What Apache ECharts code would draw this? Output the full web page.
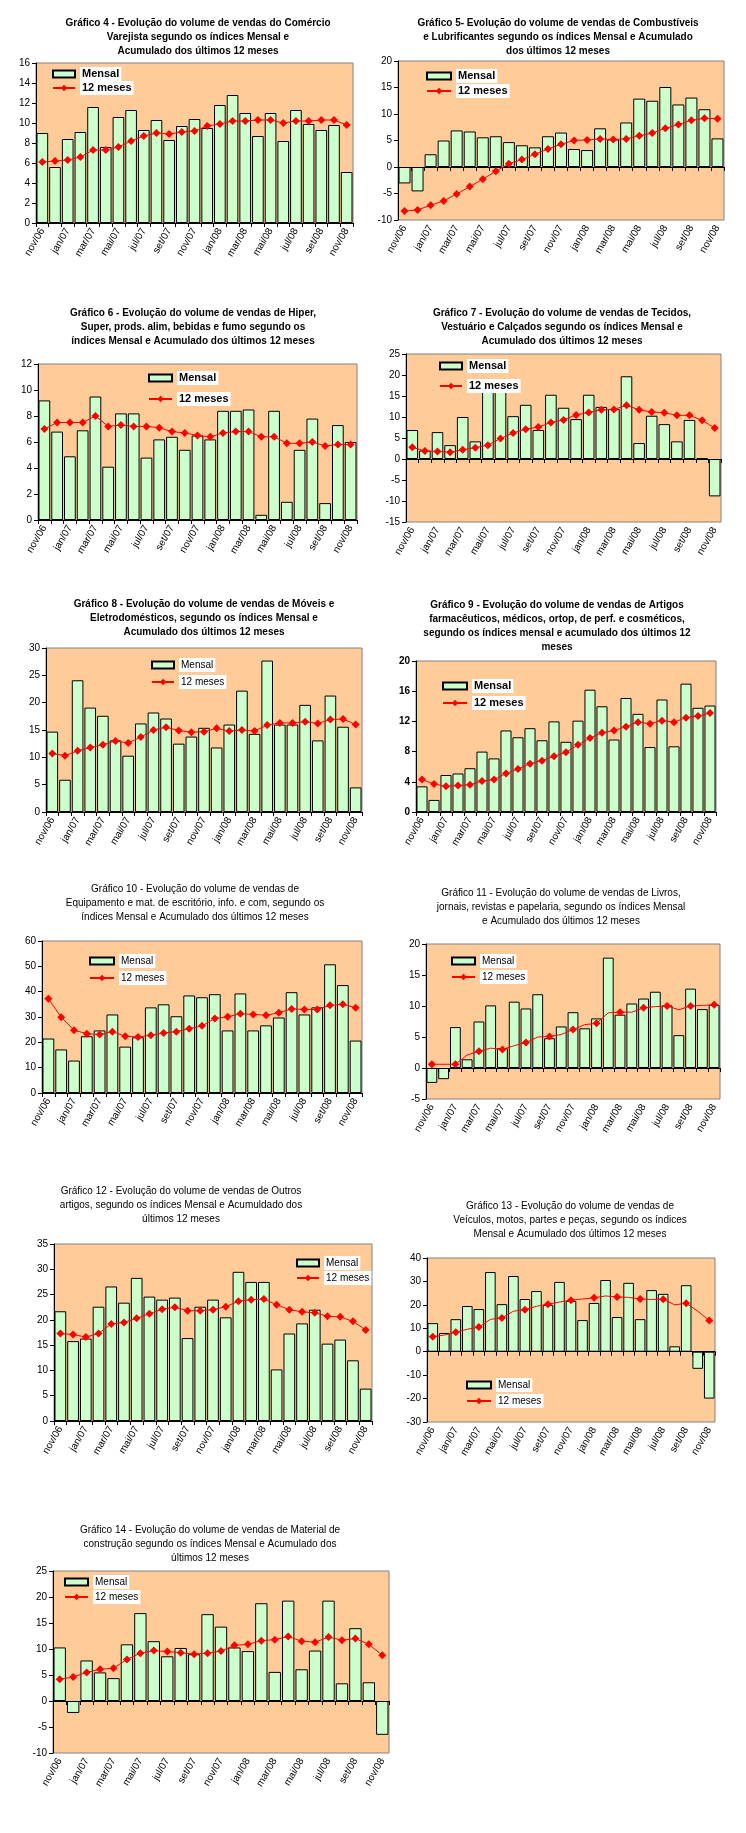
<!DOCTYPE html>
<html>
<head>
<meta charset="utf-8">
<script src="https://cdn.jsdelivr.net/npm/echarts@6/dist/echarts.min.js"></script>
<style>
html,body{margin:0;padding:0;background:#fff;}
#chart{width:746px;height:1833px;}
</style>
</head>
<body>
<div id="chart"></div>
<script>
const months = ['nov/06','dez/06','jan/07','fev/07','mar/07','abr/07','mai/07','jun/07','jul/07','ago/07','set/07','out/07','nov/07','dez/07','jan/08','fev/08','mar/08','abr/08','mai/08','jun/08','jul/08','ago/08','set/08','out/08','nov/08'];

const c4_mensal = [9.0,5.6,8.4,9.1,11.6,7.6,10.6,11.3,9.3,10.3,8.3,9.7,10.4,9.5,11.8,12.8,11.0,8.7,11.0,8.2,11.3,9.9,9.3,9.8,5.1];
const c4_12m    = [6.1,6.2,6.3,6.6,7.3,7.3,7.6,8.2,8.7,9.0,8.9,9.1,9.2,9.7,9.9,10.2,10.2,10.3,10.3,10.0,10.2,10.2,10.3,10.3,9.8];

const c5_mensal = [-3.1,-4.6,2.4,5.0,6.9,6.7,5.6,5.8,4.7,4.1,3.7,5.8,6.5,3.4,3.2,7.3,5.2,8.4,12.9,12.5,15.1,11.8,13.1,10.9,5.4];
const c5_12m    = [-8.3,-8.1,-7.2,-6.4,-5.1,-3.7,-2.3,-0.8,0.6,1.4,2.4,3.4,4.3,5.0,5.1,5.3,5.2,5.3,5.9,6.4,7.3,8.0,8.8,9.2,9.1];

const c6_mensal = [9.2,6.8,4.9,6.9,9.5,4.1,8.2,8.2,4.8,6.2,6.4,5.4,6.5,6.2,8.4,8.4,8.5,0.4,8.4,1.4,5.4,7.8,1.3,7.3,6.0];
const c6_12m    = [7.0,7.5,7.5,7.5,8.0,7.2,7.3,7.2,7.2,7.1,6.8,6.7,6.5,6.4,6.7,6.8,6.8,6.4,6.4,5.9,5.9,6.0,5.7,5.8,5.8];

const c7_mensal = [6.9,2.0,6.4,3.3,10.0,4.2,17.5,16.8,10.2,12.9,6.9,15.3,12.2,9.5,15.3,12.4,11.9,19.7,3.8,10.3,8.3,4.2,9.3,0.2,-8.9];
const c7_12m    = [2.8,1.9,1.8,1.6,2.2,2.7,3.3,4.9,6.2,7.1,7.6,8.7,9.3,10.5,11.1,11.7,11.8,12.8,11.7,11.2,11.0,10.4,10.4,9.2,7.4];

const c8_mensal = [14.7,5.9,24.1,19.1,17.6,13.1,10.3,16.2,18.2,17.1,12.5,13.8,15.4,11.8,16.0,22.2,14.3,27.7,16.0,16.0,19.6,13.1,21.3,15.6,4.5];
const c8_12m    = [10.7,10.3,11.2,11.8,12.3,13.0,12.6,13.7,15.0,15.5,14.9,14.6,14.7,15.3,14.8,15.0,14.8,15.9,16.3,16.3,16.5,16.2,16.9,17.0,16.0];

const c9_mensal = [3.4,1.6,4.9,5.1,5.8,8.0,7.1,10.8,9.9,11.1,9.5,12.0,9.3,12.1,16.2,14.0,9.6,15.1,13.0,8.6,14.9,8.7,17.0,13.8,14.1];
const c9_12m    = [4.3,3.7,3.4,3.5,3.6,4.1,4.3,5.1,5.7,6.4,6.8,7.4,7.9,8.9,9.8,10.5,10.8,11.3,11.9,11.7,12.1,11.9,12.5,12.7,13.1];

const c10_mensal = [21.5,17.2,12.8,22.4,24.7,31.0,18.3,22.0,33.8,35.0,30.3,38.5,37.8,39.0,24.7,39.3,24.7,26.7,29.8,39.8,31.0,33.8,50.8,42.6,20.7];
const c10_12m    = [37.2,29.9,24.8,23.4,23.1,24.2,22.4,22.1,22.8,23.7,24.2,25.4,26.5,29.4,30.1,31.3,31.0,30.7,31.7,33.2,33.0,33.0,34.6,35.0,33.7];

const c11_mensal = [-2.4,-1.8,6.6,1.4,7.5,10.1,3.2,10.7,9.6,11.9,4.8,6.7,9.0,6.4,8.0,17.8,8.6,10.4,11.2,12.3,10.1,5.3,12.8,9.5,10.2];
const c11_12m    = [0.6,0.6,0.6,2.1,2.7,3.2,3.0,3.6,4.1,5.0,5.1,5.4,6.2,7.0,7.2,8.9,9.0,9.0,9.7,9.9,10.0,9.4,10.0,10.1,10.2];

const c12_mensal = [21.7,15.8,16.3,22.6,26.6,23.4,28.3,24.6,24.0,24.4,16.4,22.6,24.0,20.5,29.5,27.5,27.5,10.2,17.3,19.3,22.0,15.3,16.1,12.0,6.4];
const c12_12m    = [17.3,17.1,16.6,17.3,19.2,19.5,20.3,21.2,22.1,22.5,21.8,21.8,22.0,22.6,23.7,24.0,24.1,23.0,22.0,21.6,21.4,20.7,20.6,19.7,18.0];

const c13_mensal = [12.2,8.0,13.9,19.5,18.2,34.0,20.3,32.3,22.5,25.9,20.0,29.8,21.7,13.5,20.8,30.6,14.8,29.4,13.9,26.3,24.7,2.3,28.4,-7.3,-20.0];
const c13_12m    = [6.4,7.1,8.3,9.6,10.5,13.8,14.4,17.3,17.9,19.4,20.3,21.2,22.0,22.5,23.0,23.8,23.4,23.2,22.5,22.3,22.4,20.0,20.7,17.3,13.3];

const c14_mensal = [10.3,-2.3,7.8,5.5,4.4,10.9,16.9,11.5,8.6,10.2,9.0,16.7,14.3,10.3,9.6,18.8,5.6,19.3,6.1,9.7,19.3,3.4,14.0,3.6,-6.5];
const c14_12m    = [4.2,4.6,5.5,6.1,6.3,8.0,9.2,9.7,9.5,9.3,9.0,9.2,9.6,10.7,10.9,11.6,11.8,12.4,11.5,11.3,12.3,11.7,12.0,10.9,8.8];

const titles = [
 'Gráfico 4 - Evolução do volume de vendas do Comércio\nVarejista segundo os índices Mensal e\nAcumulado dos últimos 12 meses',
 'Gráfico 5- Evolução do volume de vendas de Combustíveis\ne Lubrificantes segundo os índices Mensal e Acumulado\ndos últimos 12 meses',
 'Gráfico 6 - Evolução do volume de vendas de Hiper,\nSuper, prods. alim, bebidas e fumo segundo os\níndices Mensal e Acumulado dos últimos 12 meses',
 'Gráfico 7 - Evolução do volume de vendas de Tecidos,\nVestuário e Calçados segundo os índices Mensal e\nAcumulado dos últimos 12 meses',
 'Gráfico 8 - Evolução do volume de vendas de Móveis e\nEletrodomésticos, segundo os índices Mensal e\nAcumulado dos últimos 12 meses',
 'Gráfico 9 - Evolução do volume de vendas de Artigos\nfarmacêuticos, médicos, ortop, de perf. e cosméticos,\nsegundo os índices mensal e acumulado dos últimos 12\nmeses',
 'Gráfico 10 - Evolução do volume de vendas de\nEquipamento e mat. de escritório, info. e com, segundo os\níndices Mensal e Acumulado dos últimos 12 meses',
 'Gráfico 11 - Evolução do volume de vendas de Livros,\njornais, revistas e papelaria, segundo os índices Mensal\ne Acumulado dos últimos 12 meses',
 'Gráfico 12 - Evolução do volume de vendas de Outros\nartigos, segundo os índices Mensal e Acumuldado dos\núltimos 12 meses',
 'Gráfico 13 - Evolução do volume de vendas de\nVeículos, motos, partes e peças, segundo os índices\nMensal e Acumulado dos últimos 12 meses',
 'Gráfico 14 - Evolução do volume de vendas de Material de\nconstrução segundo os índices Mensal e Acumulado dos\núltimos 12 meses'
];

const FONT = '"Liberation Sans", Arial, Helvetica, sans-serif';

// layout: grid [left, top, width, height], title [cx, top], legend [iconLeft, yMensal, y12m, iconWidth]
const panels = [
 {m:c4_mensal,  a:c4_12m,  min:0,   max:16, step:2,  grid:[36,63,317,160],  t:[198,16],   leg:[52,74,88,22],    tb:true,  lb:true,  yb:false},
 {m:c5_mensal,  a:c5_12m,  min:-10, max:20, step:5,  grid:[398,61,326,159], t:[558,16],   leg:[426,76,91,24],   tb:true,  lb:true,  yb:false},
 {m:c6_mensal,  a:c6_12m,  min:0,   max:12, step:2,  grid:[38,364,319,156], t:[193,306],  leg:[148,378,399,23],  tb:true,  lb:true,  yb:false},
 {m:c7_mensal,  a:c7_12m,  min:-15, max:25, step:5,  grid:[406,354,315,168],t:[562,306],  leg:[439,366,386,22],  tb:true,  lb:true,  yb:false},
 {m:c8_mensal,  a:c8_12m,  min:0,   max:30, step:5,  grid:[46,648,316,164], t:[204,597],  leg:[151,665,682,22],  tb:true,  lb:false, yb:false},
 {m:c9_mensal,  a:c9_12m,  min:0,   max:20, step:4,  grid:[416,661,300,151],t:[557,598],  leg:[442,686,703,24],  tb:true,  lb:true,  yb:true},
 {m:c10_mensal, a:c10_12m, min:0,   max:60, step:10, grid:[42,941,320,152], t:[195,882],  leg:[89,961,978,24],   tb:false, lb:false, yb:false},
 {m:c11_mensal, a:c11_12m, min:-5,  max:20, step:5,  grid:[426,944,294,155],t:[561,886],  leg:[451,961,977,23],  tb:false, lb:false, yb:false},
 {m:c12_mensal, a:c12_12m, min:0,   max:35, step:5,  grid:[54,1244,318,177],t:[181,1184], leg:[296,1263,1278,22],tb:false, lb:false, yb:false},
 {m:c13_mensal, a:c13_12m, min:-30, max:40, step:10, grid:[427,1258,288,164],t:[570,1199],leg:[466,1385,1401,24],tb:false, lb:false, yb:false},
 {m:c14_mensal, a:c14_12m, min:-10, max:25, step:5,  grid:[53,1571,336,182],t:[210,1523], leg:[64,1582,1597,23], tb:false, lb:false, yb:false}
];

const option = {backgroundColor:'#ffffff', animation:false, title:[], grid:[], xAxis:[], yAxis:[], legend:[], series:[]};

panels.forEach((p, i) => {
  option.title.push({
    text: titles[i], left: p.t[0], top: p.t[1], textAlign: 'center', padding: 0,
    textStyle: {fontFamily: FONT, fontSize: 10, fontWeight: p.tb ? 'bold' : 'normal', lineHeight: 14, color: '#000'}
  });
  option.grid.push({
    left: p.grid[0], top: p.grid[1], width: p.grid[2], height: p.grid[3],
    show: true, backgroundColor: '#FFCC99', borderColor: '#808080', borderWidth: 1, containLabel: false
  });
  // label axis (bottom of plot)
  option.xAxis.push({
    gridIndex: i, type: 'category', data: months, position: 'bottom',
    axisLine: {show: false, onZero: false}, axisTick: {show: false},
    axisLabel: {interval: 1, rotate: 60, fontSize: 10, color: '#000', fontFamily: FONT, margin: 6},
    splitLine: {show: false}
  });
  // zero line axis
  option.xAxis.push({
    gridIndex: i, type: 'category', data: months, position: 'bottom', z: 3,
    axisLine: {show: true, onZero: true, lineStyle: {color: '#000', width: 1}},
    axisTick: {show: true, interval: 0, length: 4, lineStyle: {color: '#000'}},
    axisLabel: {show: false}, splitLine: {show: false}
  });
  option.yAxis.push({
    gridIndex: i, type: 'value', min: p.min, max: p.max, interval: p.step, z: 3,
    axisLine: {show: true, onZero: false, lineStyle: {color: '#000', width: 1}},
    axisTick: {show: true, length: 4, lineStyle: {color: '#000'}},
    axisLabel: {fontSize: 10, color: '#000', fontFamily: FONT, margin: 6, fontWeight: p.yb ? 'bold' : 'normal'},
    splitLine: {show: false}
  });
  const lts = {fontFamily: FONT, fontSize: p.lb ? 11 : 10, fontWeight: p.lb ? 'bold' : 'normal', color: '#000',
               backgroundColor: '#fff', padding: [0, 2], lineHeight: 14};
  option.legend.push({
    data: ['Mensal'], left: p.leg[0], top: p.leg[1] - 7, padding: 0, itemWidth: p.leg[3], itemHeight: 7,
    icon: 'rect', selectedMode: false, textStyle: lts, itemGap: 0
  });
  option.legend.push({
    data: ['12 meses'], left: p.leg[0], top: p.leg[2] - 7, padding: 0, itemWidth: p.leg[3], itemHeight: 8,
    selectedMode: false, textStyle: lts, itemGap: 0
  });
  option.series.push({
    type: 'bar', name: 'Mensal', xAxisIndex: 2 * i, yAxisIndex: i, data: p.m,
    barCategoryGap: '8%', z: 2,
    itemStyle: {color: '#CCFFCC', borderColor: '#000', borderWidth: 1}
  });
  option.series.push({
    type: 'line', name: '12 meses', xAxisIndex: 2 * i, yAxisIndex: i, data: p.a, z: 4,
    symbol: 'diamond', symbolSize: 8, showSymbol: true,
    lineStyle: {color: '#FF0000', width: 1}, itemStyle: {color: '#FF0000'}
  });
});

const chart = echarts.init(document.getElementById('chart'), null, {renderer: 'canvas'});
chart.setOption(option);
</script>
</body>
</html>
